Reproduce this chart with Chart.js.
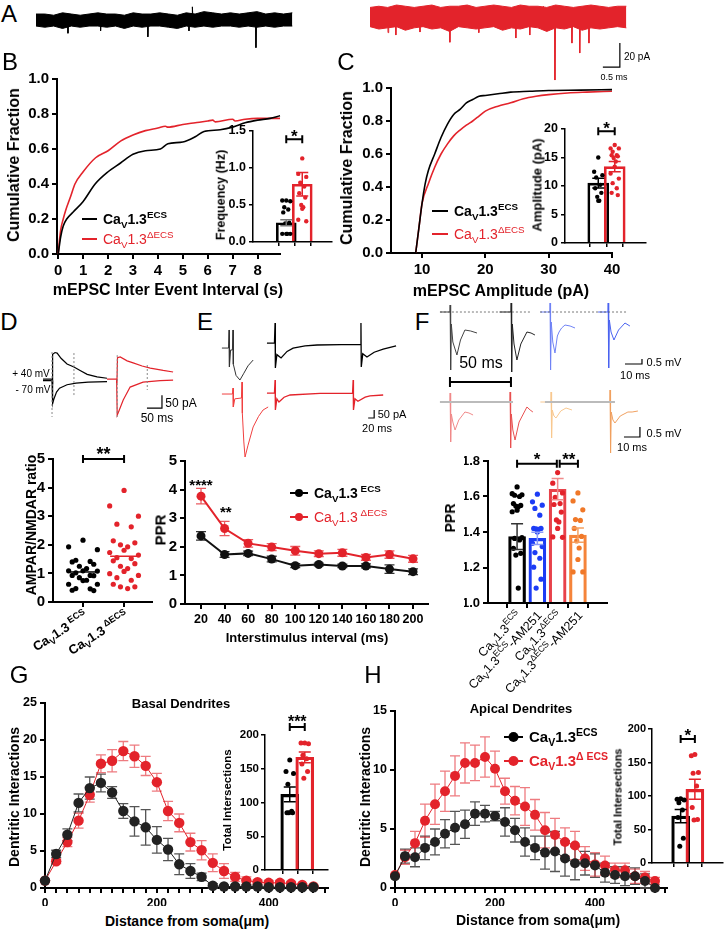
<!DOCTYPE html>
<html>
<head>
<meta charset="utf-8">
<title>CaV1.3 ECS figure</title>
<script src="https://cdn.jsdelivr.net/npm/chart.js@4.4.1/dist/chart.umd.min.js"></script>
<style>
  html, body { margin: 0; padding: 0; background: #fff; }
  body { position: relative; width: 727px; height: 933px; overflow: hidden; font-family: "Liberation Sans", Arial, sans-serif; }
  canvas { position: absolute; }
  .lbl { position: absolute; white-space: nowrap; line-height: 1; transform: translate(-50%, -50%); color: #000; }
  .rot { transform: translate(-50%, -50%) rotate(-90deg); }
</style>
</head>
<body>
<script>
// ------------------ DATA ------------------ //

// A: example mEPSC recordings (ms, pA): noise envelope every aStep ms + events [t, peak]
const aStep = 0.26;
const aBlackUp = [5,5,4,6,5,4,5,6,5,5,4,6,5,5,6,5,4,6,5,7,6,5,6,5,6,7,5,6,5,6];
const aBlackLo = [-5,-6,-5,-7,-5,-6,-5,-5,-6,-5,-7,-5,-6,-5,-5,-6,-7,-5,-6,-5,-6,-5,-5,-6,-5,-6,-5,-6,-5,-5];
const aBlackEvents = [[0.94,-11],[1.9,-9],[3.29,-14],[4.5,-9],[4.6,11],[6.47,-23]];
const aRedUp = [8,9,8,10,9,8,9,10,8,9,9,10,8,9,10,9,8,10,9,9,8,10,9,8,9,10,9,8,9,9];
const aRedLo = [-8,-10,-9,-8,-11,-9,-8,-10,-9,-12,-8,-9,-10,-9,-8,-11,-9,-10,-8,-9,-12,-9,-10,-8,-11,-9,-10,-9,-8,-9];
const aRedEvents = [[0.53,-13],[0.76,-15],[1.47,-12.5],[2.35,-21],[2.8,10],[3.2,-13],[4.29,-17.5],[4.7,-15],[5.1,9],[5.44,-52.5],[5.94,-21.7],[6.17,-30],[6.44,-21.7]];

// B: cumulative inter-event interval (s, fraction) + frequency inset (Hz)
const ieiBlack = [[0,0],[0.1,0.1],[0.2,0.16],[0.34,0.2],[0.6,0.24],[1,0.3],[1.48,0.4],[2,0.47],[2.5,0.52],[3,0.57],[3.5,0.59],[4.1,0.6],[4.4,0.63],[5,0.64],[5.5,0.67],[5.85,0.7],[6.5,0.71],[7,0.725],[7.5,0.75],[8,0.765],[8.5,0.775],[8.9,0.79]];
const ieiRed = [[0,0],[0.05,0.08],[0.1,0.14],[0.2,0.2],[0.3,0.25],[0.5,0.33],[0.67,0.4],[1,0.47],[1.5,0.55],[2,0.59],[2.5,0.645],[3,0.68],[3.5,0.705],[4,0.72],[4.3,0.73],[4.4,0.725],[5,0.74],[5.5,0.75],[6,0.76],[6.2,0.765],[6.3,0.755],[7,0.77],[7.1,0.76],[7.5,0.77],[8,0.775],[8.9,0.775]];
const freqMean = [0.26, 0.78];
const freqSem = [0.04, 0.16];
const freqBlack = [0.56,0.56,0.55,0.47,0.44,0.4,0.26,0.25,0.11,0.11,0.11,0.11];
const freqRed = [1.13,0.92,0.88,0.8,0.75,0.66,0.6,0.5,0.47,0.45,0.3,0.28];

// C: cumulative amplitude (pA, fraction) + amplitude inset (pA)
const ampBlack = [[9,0],[9.5,0.15],[10,0.3],[10.5,0.42],[11,0.5],[12,0.6],[13,0.7],[14,0.78],[15,0.84],[16,0.87],[17,0.91],[18,0.93],[19,0.95],[20,0.955],[22,0.965],[24,0.975],[27,0.98],[30,0.985],[35,0.987],[40,0.99]];
const ampRed = [[9,0],[9.5,0.15],[10,0.3],[11,0.42],[12,0.52],[13,0.6],[14,0.66],[15,0.71],[16,0.745],[17,0.775],[18,0.8],[19,0.83],[20,0.86],[22,0.89],[24,0.91],[26,0.935],[28,0.95],[30,0.96],[33,0.97],[36,0.975],[40,0.98]];
const ampMean = [10.5, 13.4];
const ampSem = [0.85, 0.9];
const ampDotsBlack = [15.0,12.5,11.9,11.5,10.2,9.6,8.8,8.1,7.4,7.4];
const ampDotsRed = [17.2,16.6,16.6,16.0,15.4,15.4,15.2,14.9,14.3,13.4,12.2,11.3,10.5,9.6,8.8,8.4];

// D: example AMPA/NMDA currents (ms, pA) and ratios
const dBlackUp = [[10,0],[40,0],[41,-20],[43,95],[50,102],[57,100],[70,80],[90,58],[113,46],[135,32],[157,18],[190,8],[223,3]];
const dBlackDown = [[10,-6],[40,-6],[42,-95],[46,-78],[55,-50],[65,-35],[90,-22],[120,-16],[160,-12],[223,-10]];
const dRedUp = [[223,0],[255,0],[256,-15],[258,82],[267,85],[290,70],[310,62],[340,50],[367,42],[410,33],[443,27]];
const dRedDown = [[255,0],[257,-139],[262,-125],[277,-81],[300,-31],[343,-12],[400,-6],[443,-4]];
const ratioBlack = [2.16,1.93,1.83,1.46,1.42,1.40,1.32,1.25,1.17,1.09,1.09,1.08,1.02,0.93,0.93,0.92,0.85,0.76,0.75,0.62,0.62,0.47,0.46,0.41,0.40];
const ratioRed = [3.9,3.36,3.0,2.72,2.63,2.14,2.07,2.0,1.93,1.81,1.73,1.64,1.55,1.52,1.44,1.34,1.25,1.17,1.07,0.99,0.93,0.85,0.76,0.62,0.53,0.53,0.47];
const ratioMean = [1.05, 1.6];

// E: paired-pulse traces (ms, pA) and PPR vs interval
const eBlack1 = [[23,-19],[45,-19],[47,94],[48,-137],[52,-31],[58,-31],[60,94],[61,-120],[70,-190],[83,-219],[95,-180],[110,-130],[127,-94]];
const eBlack2 = [[173,12],[198,12],[200,137],[201,-144],[206,-60],[220,-81],[240,-40],[260,-19],[300,-5],[340,0],[420,3],[484,3],[486,137],[487,-137],[492,-55],[506,-75],[530,-45],[560,-25],[603,-6]];
const eRed1 = [[23,0],[58,0],[60,37],[61,-81],[66,-30],[88,-25],[90,75],[91,-120],[96,-300],[100,-394],[110,-320],[127,-206],[145,-140],[160,-100],[177,-81]];
const eRed2 = [[173,6],[198,6],[200,87],[201,-100],[206,-30],[213,-50],[230,-20],[250,-6],[350,4],[458,4],[460,87],[461,-100],[466,-30],[476,-45],[500,-20],[516,-12],[560,-6]];
const isi = [20,40,60,80,100,120,140,160,180,200];
const pprBlack = [2.38,1.73,1.77,1.57,1.34,1.38,1.33,1.33,1.22,1.13];
const pprBlackSem = [0.15,0.1,0.08,0.1,0.07,0.05,0.06,0.07,0.15,0.1];
const pprRed = [3.77,2.64,2.12,1.99,1.86,1.76,1.79,1.63,1.73,1.58];
const pprRedSem = [0.27,0.25,0.13,0.12,0.15,0.1,0.12,0.1,0.13,0.12];

// F: fEPSP traces (ms, mV) and PPR with AM251
const fBlack1 = [[3,0],[8.8,0],[8.9,0.35],[9.2,-2.9],[9.6,-0.6],[10.5,-1.5],[12.9,-2.15],[15,-1.4],[17.6,-0.9],[21,-0.95],[24.7,-1.05]];
const fBlack2 = [[38,0],[44.7,0],[44.8,0.45],[45.1,-3.0],[45.5,-0.6],[46.5,-1.6],[48.2,-2.4],[50.5,-1.6],[54.1,-1.0],[56.5,-1.05],[58.8,-1.15]];
const fBlue1 = [[62,0],[67.6,0],[67.7,0.45],[68,-2.9],[68.4,-0.5],[69.3,-1.5],[70.6,-2.05],[72,-1.2],[73,-1.0],[74.5,-0.8],[76.5,-0.65],[79.5,-0.7],[82.4,-0.8]];
const fBlue2 = [[96,0],[101.8,0],[101.9,0.45],[102.2,-2.8],[102.6,-0.4],[103.6,-1.0],[105.3,-1.4],[108,-0.9],[111.8,-0.55],[114.7,-0.7]];
const fRed1 = [[3,0],[8.8,0],[8.9,0.45],[9.2,-2.0],[9.6,-0.6],[10.5,-1.0],[11.8,-1.4],[14,-0.9],[17.6,-0.5],[20,-0.55],[22.4,-0.65]];
const fRed2 = [[38,0],[44.1,0],[44.2,0.5],[44.5,-2.3],[44.9,-0.6],[45.8,-1.4],[47.1,-1.9],[49.5,-1.0],[54.1,-0.25],[56,-0.4],[57.6,-0.5]];
const fOrange1 = [[62,0],[68.2,0],[68.3,0.5],[68.6,-1.8],[69,-0.4],[70,-0.7],[71.2,-0.8],[74,-0.45],[77.1,-0.3],[80.6,-0.4]];
const fOrange2 = [[96,0],[102.9,0],[103,0.6],[103.3,-2.55],[103.7,-0.5],[104.7,-0.9],[105.9,-1.05],[109,-0.7],[113.5,-0.5],[116,-0.5],[119.4,-0.45]];
const fGroups = [['ECS', ''], ['ECS', '-AM251'], ['ΔECS', ''], ['ΔECS', '-AM251']];
const fMean = [1.374, 1.364, 1.641, 1.382];
const fSem = [0.073, 0.035, 0.06, 0.04];
const fDots = [
  [1.654,1.616,1.61,1.607,1.60,1.56,1.55,1.546,1.542,1.523,1.514,1.368,1.364,1.355,1.308,1.28,1.27,1.084],
  [1.613,1.57,1.551,1.533,1.495,1.42,1.42,1.418,1.415,1.40,1.336,1.318,1.284,1.252,1.202,1.134,1.084],
  [1.735,1.675,1.62,1.595,1.56,1.555,1.512,1.468,1.457,1.42,1.372,1.37],
  [1.62,1.575,1.525,1.47,1.465,1.42,1.375,1.35,1.31,1.245,1.175,1.175]
];

// G: Sholl analysis, basal dendrites
const basalR = [0,20,40,60,80,100,120,140,160,180,200,220,240,260,280,300,320,340,360,380,400,420,440,460,480];
const basalBlack = [1.0,4.6,7.2,11.5,13.5,14.2,12.9,10.4,9.0,8.2,6.5,5.2,3.2,2.3,1.5,0.3,0.2,0.2,0.2,0.2,0.1,0.1,0.1,0.1,0.1];
const basalBlackSem = [0,0.5,0.8,1.2,1.5,1.2,0.8,1.0,2.0,2.4,1.8,1.5,1.4,1.0,0.5,0.3,0.2,0.2,0.2,0.2,0.1,0.1,0.1,0.1,0.1];
const basalRed = [1.0,3.6,6.2,9.1,12.6,16.8,17.2,18.5,17.8,16.5,14.3,10.4,8.8,6.2,5.1,3.4,2.3,1.5,1.0,0.8,0.7,0.7,0.6,0.4,0.2];
const basalRedSem = [0,0.3,0.6,1.0,1.0,1.2,1.5,1.3,1.5,1.3,1.2,1.3,1.2,1.2,1.3,1.2,1.0,0.6,0.5,0.3,0.3,0.3,0.3,0.2,0.2];
const basalTotal = [112, 167];
const basalTotalSem = [11, 8];
const basalDotsBlack = [163,146,143,127,87,85,85,85];
const basalDotsRed = [188,188,187,170,165,157,146,136];

// H: Sholl analysis, apical dendrites
const apicalR = [0,20,40,60,80,100,120,140,160,180,200,220,240,260,280,300,320,340,360,380,400,420,440,460,480,500,520];
const apicalBlack = [1.0,2.7,2.6,3.4,3.9,4.6,5.1,5.4,6.3,6.3,6.1,5.6,4.9,3.9,3.4,3.0,3.1,2.5,2.1,2.1,1.9,1.3,1.1,1.0,1.0,0.6,0.0];
const apicalBlackSem = [0,0.6,0.8,1.0,1.1,1.2,1.4,1.2,1.0,0.7,0.4,1.2,1.0,1.2,1.0,1.4,1.7,1.5,1.4,1.0,1.0,0.8,0.7,0.8,0.7,0.6,0];
const apicalRed = [1.1,2.6,3.8,5.7,7.1,8.2,9.5,10.6,10.6,11.1,10.1,8.2,7.4,6.9,6.2,4.9,4.5,3.9,3.6,2.5,2.0,1.9,1.5,1.5,1.0,0.9,0.6];
const apicalRedSem = [0,0.6,1.0,1.4,1.7,1.7,1.7,1.7,1.5,1.7,1.5,1.1,1.2,1.6,1.3,1.5,1.4,1.2,1.2,1.0,1.0,0.8,0.6,0.6,0.6,0.5,0.3];
const apicalTotal = [70, 110];
const apicalTotalSem = [10, 15];
const apicalDotsBlack = [96,95,94,90,79,68,37,25];
const apicalDotsRed = [162,160,135,134,115,83,65,64];

// ------------------ HELPERS ------------------ //
const FONT = '"Liberation Sans", Arial, sans-serif';
const RED = '#e3232b';
const BLUE = '#1c3cf5';
const ORANGE = '#f07828';
Chart.defaults.font.family = FONT;
Chart.defaults.color = '#000';

const JIT = [0, -1, 1, -0.5, 0.5, -0.75, 0.75, -0.25, 0.25];
function swarm(vals, center, half) {
  return vals.map((v, i) => ({ x: center + half * JIT[i % JIT.length], y: v }));
}
function zip(xs, ys) { return xs.map((x, i) => [x, ys[i]]); }

function addCanvas(left, top, w, h) {
  const cv = document.createElement("canvas");
  w = Math.round(w); h = Math.round(h);
  cv.width = w; cv.height = h;
  cv.style.left = Math.round(left) + "px";
  cv.style.top = Math.round(top) + "px";
  cv.style.width = w + "px";
  cv.style.height = h + "px";
  document.body.appendChild(cv);
  return cv;
}

// "CaV1.3^sup" with subscript V, drawn on a canvas
function caText(c, x, y, sup, size, weight, color, right, tail) {
  const parts = [["Ca", size, 0], ["V", size * 0.7, size * 0.25], ["1.3", size, 0], [sup, size * 0.7, -size * 0.42]];
  if (tail) parts.push([tail, size, 0]);
  c.fillStyle = color;
  c.textBaseline = "alphabetic";
  c.textAlign = "left";
  let total = 0;
  const widths = parts.map(p => {
    c.font = weight + " " + p[1] + "px " + FONT;
    const w = c.measureText(p[0]).width;
    total += w;
    return w;
  });
  let cx = right ? x - total : x;
  parts.forEach((p, i) => {
    c.font = weight + " " + p[1] + "px " + FONT;
    c.fillText(p[0], cx, y + p[2]);
    cx += widths[i];
  });
}

function errBars(chart, e) {
  const xs = chart.scales.x, ys = chart.scales.y, c = chart.ctx;
  c.save();
  c.lineWidth = e.lw || 1.3;
  e.x.forEach((xv, i) => {
    if (!e.s[i]) return;
    const px = xs.getPixelForValue(xv);
    const top = ys.getPixelForValue(e.y[i] + e.s[i]);
    const bot = ys.getPixelForValue(e.y[i] - e.s[i]);
    c.strokeStyle = Array.isArray(e.color) ? e.color[i] : e.color;
    c.beginPath();
    c.moveTo(px, top); c.lineTo(px, bot);
    c.moveTo(px - e.cap, top); c.lineTo(px + e.cap, top);
    c.moveTo(px - e.cap, bot); c.lineTo(px + e.cap, bot);
    c.stroke();
  });
  c.restore();
}

function sigBar(chart, s) {
  const xs = chart.scales.x, ys = chart.scales.y, c = chart.ctx;
  const a = xs.getPixelForValue(s.x1), b = xs.getPixelForValue(s.x2), y = ys.getPixelForValue(s.y);
  c.save();
  c.strokeStyle = "#000";
  c.lineWidth = 2;
  c.beginPath();
  c.moveTo(a, y); c.lineTo(b, y);
  c.moveTo(a, y - 4); c.lineTo(a, y + 4);
  c.moveTo(b, y - 4); c.lineTo(b, y + 4);
  c.stroke();
  c.fillStyle = "#000";
  c.font = "bold " + s.size + "px " + FONT;
  c.textAlign = "center";
  c.textBaseline = "alphabetic";
  c.fillText(s.text, (a + b) / 2, y - s.gap + s.size * 0.58);
  c.restore();
}

function note(chart, n) {
  const c = chart.ctx;
  const px = chart.scales.x.getPixelForValue(n.x), py = chart.scales.y.getPixelForValue(n.y);
  c.save();
  c.fillStyle = "#000";
  c.font = "bold " + n.size + "px " + FONT;
  c.textAlign = "center";
  c.textBaseline = "alphabetic";
  c.fillText(n.text, px, py + n.size * 0.58);
  c.restore();
}

function legendItem(chart, l) {
  const c = chart.ctx, a = chart.chartArea;
  const x = a.left + l.dx, y = a.top + l.dy;
  c.save();
  c.strokeStyle = l.color;
  c.lineWidth = 2;
  c.beginPath(); c.moveTo(x, y); c.lineTo(x + l.len, y); c.stroke();
  if (l.marker) {
    c.fillStyle = l.color;
    c.beginPath(); c.arc(x + l.len / 2, y, l.marker, 0, 2 * Math.PI); c.fill();
  }
  caText(c, x + l.len + 6, y + l.size * 0.36, l.sup, l.size, l.weight, l.color, false);
  c.restore();
}

function xLabel(chart, l) {
  const c = chart.ctx;
  const px = chart.scales.x.getPixelForValue(l.v), py = chart.chartArea.bottom + l.dy;
  c.save();
  c.translate(px + l.dx, py);
  c.rotate(l.angle * Math.PI / 180);
  caText(c, 0, l.size * 0.35, l.sup, l.size, l.weight, "#000", true, l.tail);
  c.restore();
}

function extras(spec) {
  return {
    id: "extras",
    beforeDatasetsDraw(chart) { (spec.errBehind || []).forEach(e => errBars(chart, e)); },
    afterDatasetsDraw(chart) {
      (spec.err || []).forEach(e => errBars(chart, e));
      (spec.sig || []).forEach(s => sigBar(chart, s));
      (spec.notes || []).forEach(n => note(chart, n));
      (spec.legend || []).forEach(l => legendItem(chart, l));
      (spec.xlabels || []).forEach(l => xLabel(chart, l));
    }
  };
}

function lin(min, max, ticks, fmt, size, lw, tl, pad) {
  return {
    type: "linear", min: min, max: max,
    afterBuildTicks: s => { s.ticks = ticks.map(v => ({ value: v })); },
    border: { display: true, color: "#000", width: lw || 2 },
    grid: { drawOnChartArea: false, drawTicks: true, tickLength: tl || 5, color: "#000", lineWidth: lw || 2 },
    ticks: { color: "#000", font: { family: FONT, size: size, weight: "bold" }, padding: pad === undefined ? 3 : pad, autoSkip: false, maxRotation: 0, minRotation: 0, callback: fmt }
  };
}
const blank = () => "";
const fix1 = v => v.toFixed(1);
const plain = v => v;

function baseOpts(scales) {
  return {
    responsive: false, animation: false, devicePixelRatio: 1, events: [],
    plugins: { legend: { display: false }, tooltip: { enabled: false } },
    scales: scales
  };
}

// area = wanted plot box in page pixels
function plot(area, yw, xh, pad, datasets, xs, ys, spec) {
  const [pt, pr, pb, pl] = pad;
  const cv = addCanvas(area.l - yw - pl, area.t - pt, area.r - area.l + yw + pl + pr, area.b - area.t + xh + pt + pb);
  xs.afterFit = s => { s.height = xh; };
  ys.afterFit = s => { s.width = yw; };
  const opts = baseOpts({ x: xs, y: ys });
  opts.layout = { padding: { top: pt, right: pr, bottom: pb, left: pl } };
  return new Chart(cv, { type: "scatter", data: { datasets: datasets }, options: opts, plugins: [extras(spec || {})] });
}

function trace(left, top, w, h, xr, yr, sets) {
  const cv = addCanvas(left, top, w, h);
  const opts = baseOpts({
    x: { type: "linear", display: false, min: xr[0], max: xr[1] },
    y: { type: "linear", display: false, min: yr[0], max: yr[1] }
  });
  opts.layout = { padding: 0 };
  return new Chart(cv, { type: "scatter", data: { datasets: sets }, options: opts });
}

function tr(pts, color, lw, dash) {
  return {
    type: "line", data: pts.map(p => ({ x: p[0], y: p[1] })),
    borderColor: color, borderWidth: lw || 1, borderDash: dash || [],
    pointRadius: 0, tension: 0, fill: false, clip: false, spanGaps: false
  };
}
function eventLines(list) {
  const out = [];
  list.forEach(([t, d]) => { out.push([t - 0.01, 0], [t, d], [t + 0.02, 0], [t + 0.02, null]); });
  return out;
}
function noiseBand(up, lo, color) {
  return [
    { type: "line", data: up.map((v, i) => ({ x: i * aStep, y: v })), borderColor: color, backgroundColor: color, borderWidth: 1, pointRadius: 0, fill: "+1", tension: 0, clip: false },
    { type: "line", data: lo.map((v, i) => ({ x: i * aStep, y: v })), borderColor: color, backgroundColor: color, borderWidth: 1, pointRadius: 0, fill: false, tension: 0, clip: false }
  ];
}

function lineSet(pts, color, lw, smooth, r, order) {
  return {
    type: "line", data: pts.map(p => ({ x: p[0], y: p[1] })),
    borderColor: color, backgroundColor: color, borderWidth: lw,
    pointRadius: r || 0, pointBorderWidth: 0, tension: 0,
    cubicInterpolationMode: smooth ? "monotone" : "default",
    fill: false, clip: false, order: order || 2
  };
}
function dots(pts, color, r) {
  return { type: "scatter", data: pts, backgroundColor: color, borderColor: color, pointRadius: r, pointBorderWidth: 0, borderWidth: 0, clip: false, order: 1 };
}
function bars(vals, colors, thick, lw, base) {
  return {
    type: "bar", data: vals.map((v, i) => ({ x: i + 1, y: v })),
    backgroundColor: "rgba(255,255,255,0)", borderColor: colors, borderWidth: lw,
    barThickness: thick, grouped: false, base: base || 0, order: 5
  };
}

// ------------------ A: TRACES ------------------ //
trace(36, 0, 258, 60, [0, 7.59], [-33.3, 16.7],
  noiseBand(aBlackUp, aBlackLo, "#000").concat([tr(eventLines(aBlackEvents), "#000", 1)]));
trace(370, 0, 257, 90, [0, 7.56], [-60.8, 14.2],
  noiseBand(aRedUp, aRedLo, RED).concat([
    tr(eventLines(aRedEvents), RED, 1),
    tr([[6.85, -41.7], [7.35, -41.7], [7.35, -21.7]], "#000", 1.2)
  ]));

// ------------------ B ------------------ //
plot({ l: 57, t: 77, r: 280, b: 254 }, 40, 34, [10, 12, 4, 6],
  [lineSet(ieiBlack, "#000", 1.6, true), lineSet(ieiRed, RED, 1.6, true)],
  lin(-0.05, 8.9, [0, 1, 2, 3, 4, 5, 6, 7, 8], plain, 15),
  lin(0, 1, [0, 0.2, 0.4, 0.6, 0.8, 1], fix1, 15),
  { legend: [
    { dx: 25, dy: 140, len: 15, color: "#000", sup: "ECS", size: 14, weight: "bold" },
    { dx: 25, dy: 160, len: 15, color: RED, sup: "ΔECS", size: 14, weight: "normal" }
  ] });

plot({ l: 253, t: 131, r: 332, b: 242 }, 30, 7, [34, 6, 4, 4],
  [bars(freqMean, ["#000", RED], 20, 2), dots(swarm(freqBlack, 1, 0.25), "#000", 2.2), dots(swarm(freqRed, 2, 0.25), RED, 2.2)],
  lin(0.156, 2.625, [1, 2], blank, 12, 1.5, 4),
  lin(0, 1.5, [0, 0.5, 1, 1.5], fix1, 12.5, 1.5, 4),
  { err: [{ x: [1, 2], y: freqMean, s: freqSem, color: ["#777", RED], cap: 6, lw: 1.5 }],
    sig: [{ x1: 1, x2: 2, y: 1.39, text: "*", size: 17, gap: 7 }] });

// ------------------ C ------------------ //
plot({ l: 391, t: 86, r: 612, b: 253 }, 40, 34, [10, 14, 4, 6],
  [lineSet(ampBlack, "#000", 1.6, true), lineSet(ampRed, RED, 1.6, true)],
  lin(5.1, 40, [10, 20, 30, 40], plain, 15),
  lin(0, 1, [0, 0.2, 0.4, 0.6, 0.8, 1], fix1, 15),
  { legend: [
    { dx: 41, dy: 123, len: 16, color: "#000", sup: "ECS", size: 14, weight: "bold" },
    { dx: 41, dy: 146, len: 16, color: RED, sup: "ΔECS", size: 14, weight: "normal" }
  ] });

plot({ l: 565, t: 129, r: 646, b: 243 }, 28, 7, [34, 6, 4, 4],
  [bars(ampMean, ["#000", RED], 21, 2), dots(swarm(ampDotsBlack, 1, 0.25), "#000", 2.2), dots(swarm(ampDotsRed, 2, 0.25), RED, 2.2)],
  lin(0.21, 2.67, [1, 2], blank, 12, 1.5, 4),
  lin(0, 20, [0, 5, 10, 15, 20], plain, 12.5, 1.5, 4),
  { err: [{ x: [1, 2], y: ampMean, s: ampSem, color: ["#000", RED], cap: 6, lw: 1.5 }],
    sig: [{ x1: 1, x2: 2, y: 19.6, text: "*", size: 17, gap: 7 }] });

// ------------------ D ------------------ //
trace(40, 345, 140, 80, [0, 466], [-177, 131], [
  tr([[40, 104], [40, -146]], "#888", 1, [2, 2]),
  tr([[113, 100], [113, -69]], "#888", 1, [2, 2]),
  tr([[257, 92], [257, -146]], "#888", 1, [2, 2]),
  tr([[357, 54], [357, -42]], "#888", 1, [2, 2]),
  tr(dBlackUp, "#000", 1.2), tr(dBlackDown, "#000", 1.2),
  tr(dRedUp, RED, 1.2), tr(dRedDown, RED, 1.2),
  tr([[356, -112], [406, -112], [406, -62]], "#000", 1.2)
]);

plot({ l: 53, t: 459, r: 152, b: 602 }, 26, 8, [30, 6, 62, 36],
  [dots(swarm(ratioBlack, 1, 0.35), "#000", 2.6), dots(swarm(ratioRed, 2, 0.35), RED, 2.6),
   lineSet([[0.66, ratioMean[0]], [1.34, ratioMean[0]]], "#000", 1.5),
   lineSet([[1.66, ratioMean[1]], [2.34, ratioMean[1]]], RED, 1.5)],
  lin(0.27, 2.68, [1, 2], blank, 12, 2, 5),
  lin(0, 5, [0, 1, 2, 3, 4, 5], plain, 15),
  { sig: [{ x1: 1, x2: 2, y: 5.0, text: "**", size: 18, gap: 9 }],
    xlabels: [
      { v: 1, sup: " ECS", angle: -33, size: 13, weight: "bold", dy: 12, dx: 3 },
      { v: 2, sup: " ΔECS", angle: -33, size: 13, weight: "bold", dy: 12, dx: 3 }
    ] });

// ------------------ E ------------------ //
trace(215, 318, 185, 67, [0, 616], [-250, 169], [tr(eBlack1, "#333", 1), tr(eBlack2, "#000", 1.3)]);
trace(215, 375, 185, 90, [0, 616], [-444, 119], [
  tr(eRed1, "#f04040", 1), tr(eRed2, RED, 1.3),
  tr([[510, -150], [530, -150], [530, -100]], "#000", 1.2)
]);

plot({ l: 185, t: 461, r: 428, b: 604 }, 22, 20, [12, 10, 4, 4],
  [lineSet(zip(isi, pprBlack), "#111", 2, false, 4.5), lineSet(zip(isi, pprRed), RED, 2, false, 4.5)],
  lin(6.4, 212.7, isi, plain, 12.5),
  lin(0, 5, [0, 1, 2, 3, 4, 5], plain, 15),
  { errBehind: [
      { x: isi, y: pprBlack, s: pprBlackSem, color: "#333", cap: 5, lw: 1.3 },
      { x: isi, y: pprRed, s: pprRedSem, color: "rgba(227,35,43,0.75)", cap: 5, lw: 1.3 }
    ],
    notes: [{ x: 20, y: 4.3, text: "****", size: 15 }, { x: 41, y: 3.36, text: "**", size: 15 }],
    legend: [
      { dx: 105, dy: 32, len: 18, color: "#000", marker: 4, sup: " ECS", size: 14, weight: "bold" },
      { dx: 105, dy: 56, len: 18, color: RED, marker: 4, sup: " ΔECS", size: 14, weight: "normal" }
    ] });

// ------------------ F ------------------ //
trace(435, 298, 225, 92, [0, 132.4], [-3.9, 0.7], [
  tr([[2.9, 0], [55.9, 0]], "#555", 0.8, [2, 2]),
  tr([[61.8, 0], [113.5, 0]], "#555", 0.8, [2, 2]),
  tr(fBlack1, "#444", 1), tr(fBlack2, "#222", 1),
  tr(fBlue1, "#7083f5", 1), tr(fBlue2, "#4a63f0", 1),
  tr([[111.8, -2.6], [121.8, -2.6], [121.8, -2.35]], "#000", 1.2),
  tr([[8.8, -3.5], [44.7, -3.5]], "#000", 2),
  tr([[8.8, -3.25], [8.8, -3.75]], "#000", 2),
  tr([[44.7, -3.25], [44.7, -3.75]], "#000", 2)
]);
trace(435, 385, 225, 75, [0, 132.4], [-2.9, 0.85], [
  tr([[2.9, 0], [45.9, 0]], "#bbb", 1.8),
  tr([[64.7, 0], [105.9, 0]], "#bbb", 1.8),
  tr(fRed1, "#f08a8a", 1), tr(fRed2, "#e85050", 1),
  tr(fOrange1, "#f8c890", 1), tr(fOrange2, "#f0a060", 1),
  tr([[111.2, -1.75], [120.6, -1.75], [120.6, -1.25]], "#000", 1.2)
]);

plot({ l: 488, t: 461, r: 607, b: 603 }, 24, 8, [28, 8, 95, 50],
  [bars(fMean, ["#000", BLUE, "#e8424a", "#f5843a"], 17, 2.5, 1.0),
   dots(swarm(fDots[0], 1, 0.24), "#000", 2.6), dots(swarm(fDots[1], 2, 0.24), BLUE, 2.6),
   dots(swarm(fDots[2], 3, 0.24), RED, 2.6), dots(swarm(fDots[3], 4, 0.24), ORANGE, 2.6)],
  lin(0.30, 4.70, [1, 2, 3, 4], blank, 12, 2, 5),
  lin(1.0, 1.8, [1.0, 1.2, 1.4, 1.6, 1.8], fix1, 13),
  { err: [{ x: [1, 2, 3, 4], y: fMean, s: fSem, color: ["#333", "#8a9af8", "#f08a8a", "#f5a060"], cap: 6, lw: 1.5 }],
    sig: [{ x1: 1, x2: 2.96, y: 1.785, text: "*", size: 17, gap: 9 }, { x1: 3.1, x2: 4, y: 1.785, text: "**", size: 17, gap: 9 }],
    xlabels: fGroups.map((g, i) => ({ v: i + 1, sup: g[0], tail: g[1], angle: -47, size: 12.5, weight: "normal", dy: 10, dx: 2 })) });

// ------------------ G ------------------ //
plot({ l: 45, t: 703, r: 328, b: 888 }, 24, 18, [12, 8, 4, 8],
  [lineSet(zip(basalR, basalBlack), "#222", 1, false, 5.2, 1), lineSet(zip(basalR, basalRed), RED, 1, false, 5.2, 2)],
  lin(0, 506, basalR.concat([500]), v => (v % 200 === 0 ? v : ""), 12),
  lin(0, 25, [0, 5, 10, 15, 20, 25], plain, 12.5),
  { errBehind: [
      { x: basalR, y: basalBlack, s: basalBlackSem, color: "#555", cap: 5, lw: 1.3 },
      { x: basalR, y: basalRed, s: basalRedSem, color: "rgba(227,35,43,0.6)", cap: 5, lw: 1.3 }
    ] });

plot({ l: 265, t: 735, r: 328, b: 870 }, 26, 6, [30, 6, 4, 4],
  [bars(basalTotal, ["#000", RED], 18, 2.5), dots(swarm(basalDotsBlack, 1, 0.25), "#000", 2.5), dots(swarm(basalDotsRed, 2, 0.25), RED, 2.5)],
  lin(0.4, 2.5, [1, 2], blank, 11, 1.5, 4),
  lin(0, 200, [0, 50, 100, 150, 200], plain, 11.5, 1.5, 4, 2),
  { err: [{ x: [1, 2], y: basalTotal, s: basalTotalSem, color: ["#000", RED], cap: 6, lw: 1.5 }],
    sig: [{ x1: 1, x2: 2, y: 212, text: "***", size: 16, gap: 9 }] });

// ------------------ H ------------------ //
plot({ l: 395, t: 711, r: 667, b: 888 }, 22, 18, [12, 8, 4, 8],
  [lineSet(zip(apicalR, apicalBlack), "#222", 1, false, 5, 1), lineSet(zip(apicalR, apicalRed), RED, 1, false, 5, 2)],
  lin(0, 544, apicalR.concat([540]), v => (v % 200 === 0 ? v : ""), 12),
  lin(0, 15, [0, 5, 10, 15], plain, 12.5),
  { errBehind: [
      { x: apicalR, y: apicalBlack, s: apicalBlackSem, color: "#555", cap: 5, lw: 1.3 },
      { x: apicalR, y: apicalRed, s: apicalRedSem, color: "rgba(227,35,43,0.6)", cap: 5, lw: 1.3 }
    ],
    legend: [
      { dx: 109, dy: 26, len: 19, color: "#000", marker: 5, sup: "ECS", size: 15, weight: "bold" },
      { dx: 109, dy: 50, len: 19, color: RED, marker: 5, sup: "Δ ECS", size: 15, weight: "bold" }
    ] });

plot({ l: 652, t: 729, r: 727, b: 863 }, 26, 6, [30, 0, 4, 4],
  [bars(apicalTotal, ["#000", RED], 18, 2.5), dots(swarm(apicalDotsBlack, 1, 0.25), "#000", 2.5), dots(swarm(apicalDotsRed, 2, 0.25), RED, 2.5)],
  lin(0.233, 2.73, [1, 2], blank, 11, 1.5, 4),
  lin(0, 200, [0, 50, 100, 150, 200], plain, 11, 1.5, 4, 2),
  { err: [{ x: [1, 2], y: apicalTotal, s: apicalTotalSem, color: ["#000", RED], cap: 6, lw: 1.5 }],
    sig: [{ x1: 1, x2: 2, y: 185, text: "*", size: 17, gap: 8 }] });

// ------------------ TEXT ------------------ //
// [html, x, y, size, bold, rotated]
const texts = [
  ["A", 9, 14, 24, 0], ["B", 10, 62, 24, 0], ["C", 346, 62, 24, 0],
  ["D", 9, 322, 24, 0], ["E", 205, 322, 24, 0], ["F", 422, 322, 24, 0],
  ["G", 19, 675, 24, 0], ["H", 373, 675, 24, 0],
  ["20 pA", 637, 57, 10, 0], ["0.5 ms", 614, 77, 9, 0],
  ["Cumulative Fraction", 14, 165, 16, 1, 1], ["mEPSC Inter Event Interval (s)", 168, 290, 16, 1],
  ["Frequency (Hz)", 221, 195, 12.5, 1, 1],
  ["Cumulative Fraction", 347, 168, 16, 1, 1], ["mEPSC Amplitude (pA)", 501, 291, 16, 1],
  ["Amplitude (pA)", 537, 185, 13, 1, 1],
  ["+ 40 mV", 31, 374, 10, 0], ["- 70 mV", 33, 390, 10, 0],
  ["50 pA", 181, 403, 12, 0], ["50 ms", 157, 418, 12, 0],
  ["AMPAR/NMDAR ratio", 31, 525, 14, 1, 1],
  ["50 pA", 392, 414, 11, 0], ["20 ms", 377, 428, 11, 0],
  ["PPR", 160, 530, 15, 1, 1], ["Interstimulus interval (ms)", 307, 637, 13, 1],
  ["50 ms", 481, 363, 16, 0], ["0.5 mV", 664, 362, 11, 0], ["10 ms", 635, 375, 11, 0],
  ["0.5 mV", 664, 433, 11, 0], ["10 ms", 632, 447, 11, 0],
  ["PPR", 450, 518, 14, 1, 1],
  ["Basal Dendrites", 181, 703, 13, 1], ["Dentritic Interactions", 14, 797, 14, 1, 1],
  ["Distance from soma(μm)", 187, 921, 14, 1], ["Total Intersections", 228, 800, 11.5, 1, 1],
  ["Apical Dendrites", 521, 708, 13, 1], ["Dentritic Interactions", 365, 797, 14, 1, 1],
  ["Distance from soma(μm)", 538, 920, 14, 1], ["Total Intersections", 618, 797, 11, 1, 1]
];
texts.forEach(([html, x, y, size, bold, rot]) => {
  const el = document.createElement("div");
  el.className = "lbl" + (rot ? " rot" : "");
  el.innerHTML = html;
  el.style.left = x + "px";
  el.style.top = y + "px";
  el.style.fontSize = size + "px";
  el.style.fontWeight = bold ? "bold" : "normal";
  document.body.appendChild(el);
});
</script>
</body>
</html>
